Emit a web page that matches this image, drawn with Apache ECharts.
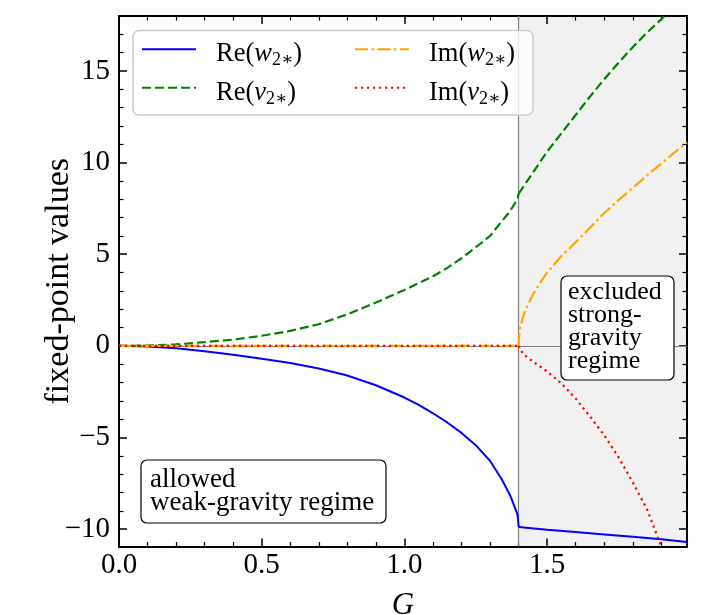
<!DOCTYPE html>
<html>
<head>
<meta charset="utf-8">
<script src="https://cdn.jsdelivr.net/npm/echarts@6/dist/echarts.min.js"></script>
<style>
  html, body { margin: 0; padding: 0; background: #fff; }
  #chart { width: 712px; height: 615px; }
</style>
</head>
<body>
<div id="chart"></div>
<script>
// ---------------- data ----------------
// Re(w2*): allowed branch (G <= 1.4) and excluded branch (G >= 1.4)
const G_REW_L = [0, 0.1, 0.2, 0.3, 0.4, 0.5, 0.6, 0.7, 0.8, 0.9, 1.0, 1.05, 1.1, 1.15, 1.2, 1.25, 1.3, 1.34, 1.37, 1.385, 1.395, 1.398, 1.4];
const REW_L   = [0, -0.03, -0.13, -0.29, -0.48, -0.7, -0.94, -1.24, -1.62, -2.15, -2.82, -3.22, -3.68, -4.18, -4.75, -5.42, -6.28, -7.25, -8.15, -8.75, -9.15, -9.45, -9.88];
const G_REW_R = [1.4, 1.5, 1.6, 1.7, 1.8, 1.9, 1.99];
const REW_R   = [-9.89, -10.03, -10.16, -10.29, -10.42, -10.56, -10.71];

// Re(v2*)
const G_REV_L = [0, 0.1, 0.2, 0.3, 0.4, 0.5, 0.6, 0.7, 0.8, 0.9, 1.0, 1.05, 1.1, 1.15, 1.2, 1.25, 1.3, 1.336, 1.36, 1.38, 1.39, 1.397, 1.4];
const REV_L   = [0, 0.01, 0.08, 0.2, 0.34, 0.55, 0.82, 1.18, 1.72, 2.36, 3.05, 3.42, 3.8, 4.25, 4.78, 5.38, 6.0, 6.7, 7.15, 7.6, 7.85, 8.05, 8.3];
const G_REV_R = [1.4, 1.45, 1.5, 1.55, 1.6, 1.65, 1.7, 1.75, 1.8, 1.85, 1.9, 1.93];
const REV_R   = [8.3, 9.45, 10.6, 11.6, 12.6, 13.6, 14.55, 15.45, 16.3, 17.1, 17.82, 18.3];

// Im parts: zero on the allowed side, non-zero on the excluded side
const G_ZERO = [0, 1.4];
const ZERO   = [0, 0];
const G_IMW = [1.4, 1.402, 1.406, 1.415, 1.43, 1.45, 1.48, 1.5, 1.55, 1.6, 1.65, 1.7, 1.75, 1.8, 1.85, 1.9, 1.95, 1.99];
const IMW   = [0, 0.55, 1.0, 1.55, 2.15, 2.8, 3.55, 4.0, 4.9, 5.65, 6.45, 7.25, 7.95, 8.62, 9.3, 9.95, 10.6, 11.1];
const G_IMV = [1.4, 1.405, 1.42, 1.45, 1.5, 1.55, 1.6, 1.65, 1.7, 1.75, 1.8, 1.85, 1.89, 1.92];
const IMV   = [0, -0.2, -0.5, -0.85, -1.4, -2.05, -2.88, -3.85, -4.88, -6.08, -7.45, -8.92, -10.55, -11.8];

const X_MAJOR = [0, 0.5, 1.0, 1.5];
const X_MINOR = [0.1, 0.2, 0.3, 0.4, 0.6, 0.7, 0.8, 0.9, 1.1, 1.2, 1.3, 1.4, 1.6, 1.7, 1.8, 1.9];
const Y_MAJOR = [-10, -5, 0, 5, 10, 15];
const Y_MINOR = [-9, -8, -7, -6, -4, -3, -2, -1, 1, 2, 3, 4, 6, 7, 8, 9, 11, 12, 13, 14, 16, 17];

const X_MIN = 0, X_MAX = 1.99;
const Y_MIN = -10.95, Y_MAX = 18;
const G_CRIT = 1.4;

const SERIES_NAMES = ['Re(w)', 'Re(v)', 'Im(w)', 'Im(v)'];
const LEGEND_TEXT = {
  'Re(w)': '{r|Re(}{i|w}{s|2\u2217}{r|)}',
  'Re(v)': '{r|Re(}{i|v}{s|2\u2217}{r|)}',
  'Im(w)': '{r|Im(}{i|w}{s|2\u2217}{r|)}',
  'Im(v)': '{r|Im(}{i|v}{s|2\u2217}{r|)}'
};

// ---------------- chart ----------------
const F = "'Liberation Serif', 'DejaVu Serif', serif";
const zip = (xs, ys) => xs.map((x, i) => [x, ys[i]]);
const minus = v => (v < 0 ? '\u2212' + Math.abs(v) : String(v));

function xAx(position, values, major, extra) {
  return Object.assign({
    type: 'value', position: position, min: X_MIN, max: X_MAX, gridIndex: 0,
    axisLine: { show: major, onZero: false, lineStyle: { color: '#000', width: 2 } },
    axisTick: { show: true, inside: true, length: major ? 8 : 4.5, customValues: values,
                lineStyle: { color: '#000', width: major ? 1.5 : 1.2 } },
    axisLabel: { show: false },
    splitLine: { show: false }
  }, extra || {});
}
function yAx(position, values, major, extra) {
  return Object.assign({
    type: 'value', position: position, min: Y_MIN, max: Y_MAX, gridIndex: 0,
    axisLine: { show: major, onZero: false, lineStyle: { color: '#000', width: 2 } },
    axisTick: { show: true, inside: true, length: major ? 8 : 4.5, customValues: values,
                lineStyle: { color: '#000', width: major ? 1.5 : 1.2 } },
    axisLabel: { show: false },
    splitLine: { show: false }
  }, extra || {});
}

const STYLES = {
  'Re(w)': { color: '#0000ff', width: 2, type: 'solid' },
  'Re(v)': { color: '#008000', width: 2.2, type: [9, 4] },
  'Im(w)': { color: '#ffa500', width: 2.2, type: [13, 3.5, 2.5, 3.5] },
  'Im(v)': { color: '#ff0000', width: 2.2, type: [2.2, 3.8] }
};
function curve(name, xs, ys) {
  const s = STYLES[name];
  return {
    name: name, type: 'line', data: zip(xs, ys), symbol: 'none', z: 2, smooth: false,
    lineStyle: { color: s.color, width: s.width, type: s.type }, itemStyle: { color: s.color }
  };
}

const chart = echarts.init(document.getElementById('chart'), null, { renderer: 'canvas' });

const legendCommon = {
  orient: 'horizontal', padding: 0, itemWidth: 54, itemHeight: 14, selectedMode: false, z: 4,
  itemStyle: { opacity: 0, borderWidth: 0 },
  formatter: name => LEGEND_TEXT[name],
  textStyle: {
    color: '#000', fontFamily: F, fontSize: 26, padding: [10, 0, 0, 15],
    rich: {
      r: { fontFamily: F, fontSize: 26.5, lineHeight: 30, color: '#000' },
      i: { fontFamily: F, fontSize: 26.5, lineHeight: 30, fontStyle: 'italic', color: '#000' },
      s: { fontFamily: F, fontSize: 18, lineHeight: 14, verticalAlign: 'bottom', color: '#000' }
    }
  }
};

const option = {
  animation: false,
  backgroundColor: '#fff',
  grid: { left: 119, right: 25, top: 16, bottom: 68.5, containLabel: false, outerBoundsMode: 'none' },
  xAxis: [
    xAx('bottom', X_MAJOR, true, {
      axisLabel: { show: true, customValues: X_MAJOR, formatter: v => v.toFixed(1), margin: 4,
                   color: '#000', fontSize: 29, fontFamily: F },
      name: 'G', nameLocation: 'middle', nameGap: 44, nameMoveOverlap: false,
      nameTextStyle: { fontFamily: F, fontSize: 31, fontStyle: 'italic', color: '#000' }
    }),
    xAx('bottom', X_MINOR, false),
    xAx('top', X_MAJOR, true),
    xAx('top', X_MINOR, false)
  ],
  yAxis: [
    yAx('left', Y_MAJOR, true, {
      axisLabel: { show: true, customValues: Y_MAJOR, formatter: minus, margin: 9,
                   color: '#000', fontSize: 29, fontFamily: F },
      name: 'fixed-point values', nameLocation: 'middle', nameGap: 43, nameMoveOverlap: false,
      nameTextStyle: { fontFamily: F, fontSize: 34, color: '#000' }
    }),
    yAx('left', Y_MINOR, false),
    yAx('right', Y_MAJOR, true),
    yAx('right', Y_MINOR, false)
  ],
  legend: [
    Object.assign({ data: ['Re(w)'], left: 141, top: 40.7 }, legendCommon),
    Object.assign({ data: ['Re(v)'], left: 141, top: 79.3 }, legendCommon),
    Object.assign({ data: ['Im(w)'], left: 354, top: 40.7 }, legendCommon),
    Object.assign({ data: ['Im(v)'], left: 354, top: 79.3 }, legendCommon)
  ],
  series: [
    {
      name: '_shade', type: 'line', data: [[X_MIN, 0]], z: 0, silent: true, symbol: 'none',
      lineStyle: { width: 0, opacity: 0 },
      markArea: { silent: true, z: 0, itemStyle: { color: '#f1f1f1' },
                  data: [[{ xAxis: G_CRIT }, { xAxis: X_MAX }]] }
    },
    {
      name: '_ref', type: 'line', data: [[X_MIN, 0]], z: 1, silent: true, symbol: 'none',
      lineStyle: { width: 0, opacity: 0 },
      markLine: { silent: true, z: 1, symbol: ['none', 'none'], label: { show: false },
                  lineStyle: { color: '#808080', width: 1.2, type: 'solid' },
                  data: [{ xAxis: G_CRIT }, { yAxis: 0 }] }
    },
    curve(SERIES_NAMES[0], G_REW_L, REW_L),
    curve(SERIES_NAMES[0], G_REW_R, REW_R),
    curve(SERIES_NAMES[1], G_REV_L, REV_L),
    curve(SERIES_NAMES[1], G_REV_R, REV_R),
    curve(SERIES_NAMES[2], G_ZERO, ZERO),
    curve(SERIES_NAMES[2], G_IMW, IMW),
    curve(SERIES_NAMES[3], G_ZERO, ZERO),
    curve(SERIES_NAMES[3], G_IMV, IMV)
  ],
  graphic: [
    { type: 'rect', z: 3, shape: { x: 133, y: 30.5, width: 400, height: 84.5, r: 6 },
      style: { fill: 'rgba(255,255,255,0.8)', stroke: '#cccccc', lineWidth: 1.5 } },
    { type: 'rect', z: 5, shape: { x: 141, y: 460, width: 245, height: 63, r: 6 },
      style: { fill: '#fff', stroke: '#000', lineWidth: 1.2 } },
    { type: 'text', z: 6, x: 150, y: 491,
      style: { text: 'allowed\nweak-gravity regime', fill: '#000', fontFamily: F, fontSize: 27,
               lineHeight: 23, verticalAlign: 'middle', align: 'left' } },
    { type: 'rect', z: 5, shape: { x: 561, y: 276, width: 113, height: 104, r: 6 },
      style: { fill: '#fff', stroke: '#000', lineWidth: 1.2 } },
    { type: 'text', z: 6, x: 568, y: 327,
      style: { text: 'excluded\nstrong-\ngravity\nregime', fill: '#000', fontFamily: F, fontSize: 26,
               lineHeight: 23, verticalAlign: 'middle', align: 'left' } }
  ]
};

chart.setOption(option);
</script>
</body>
</html>
